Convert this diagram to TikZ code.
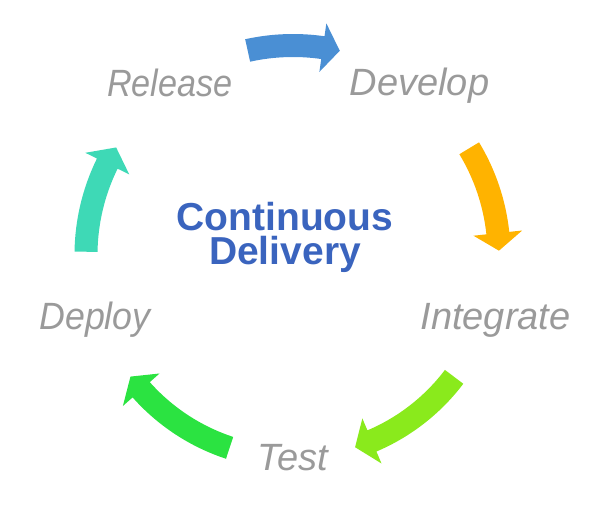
\documentclass[tikz,border=0pt]{standalone}
\usepackage{fontspec}
\setmainfont{Liberation Sans}
\definecolor{cdblue}{HTML}{4A8FD4}
\definecolor{cdorange}{HTML}{FFB300}
\definecolor{cdlime}{HTML}{8AEA1C}
\definecolor{cdgreen}{HTML}{2BE341}
\definecolor{cdteal}{HTML}{3ED9B6}
\definecolor{cdtext}{HTML}{3A64BE}
\definecolor{cdgray}{HTML}{9A9A9A}
\newcommand\cdarrow[5]{%
  \pgfmathsetmacro\cdRo{#2+11.5}%
  \pgfmathsetmacro\cdRi{#2-11.5}%
  \pgfmathsetmacro\cdHo{#2+24.5}%
  \pgfmathsetmacro\cdHi{#2-24.5}%
  \fill[#1] (#3:\cdRo pt) arc[start angle=#3,end angle=#4,radius=\cdRo pt]
    -- (#4:\cdHo pt) -- (#5:#2pt) -- (#4:\cdHi pt) -- (#4:\cdRi pt)
    arc[start angle=#4,end angle=#3,radius=\cdRi pt] -- cycle;}
\tikzset{
  steplabel/.style={inner sep=0pt,anchor=base,text=cdgray,font=\fontsize{38}{44}\selectfont\itshape},
  titlelabel/.style={inner sep=0pt,anchor=north,align=center,text=cdtext,font=\fontsize{39}{34}\selectfont\bfseries}
}
\begin{document}
\begin{tikzpicture}[x=1pt,y=1pt]
\useasboundingbox (0,0) rectangle (600,505);
\begin{scope}[shift={(293,250)}]
  \cdarrow{cdblue}{209.5}{102.5}{81.8}{77.1}
  \cdarrow{cdorange}{206}{31.2}{6.1}{1.2}
  \cdarrow{cdlime}{202}{-37.1}{-67}{-72.1}
  \cdarrow{cdgreen}{203}{-108.2}{-138.4}{-143.2}
  \cdarrow{cdteal}{207}{179.1}{153.8}{148.7}
\end{scope}
\node[steplabel,xscale=0.9] (release) at (170,408) {Release};
\node[steplabel] (develop) at (419.5,409) {Develop};
\node[steplabel] (integrate) at (495.5,175) {Integrate};
\node[steplabel] (test) at (293,34.5) {Test};
\node[steplabel,xscale=0.94] (deploy) at (95,175) {Deploy};
\node[titlelabel] (title) at (285,303) {Continuous\\Delivery};
\end{tikzpicture}
\end{document}
